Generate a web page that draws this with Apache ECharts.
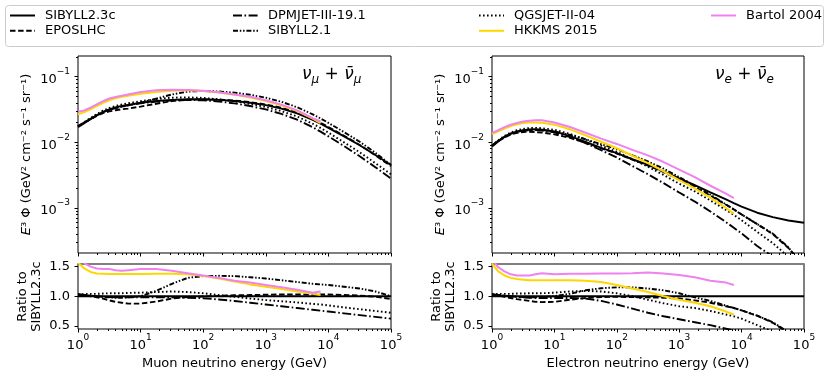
<!DOCTYPE html>
<html>
<head>
<meta charset="utf-8">
<title>Atmospheric neutrino flux</title>
<script src="https://cdn.jsdelivr.net/npm/echarts@6/dist/echarts.min.js"></script>
<style>
html, body { margin: 0; padding: 0; background: #fff; }
#chart { width: 830px; height: 388px; }
</style>
</head>
<body>
<div id="chart"></div>
<script>
// neutrino energy grid (GeV)
var energy = [1, 1.259, 1.585, 1.995, 2.512, 3.162, 3.981, 5.012, 6.310, 10, 17.78, 31.62, 56.23, 100, 177.8, 316.2, 562.3, 1000, 1778, 3162, 5623, 7499, 10000, 17783, 31623, 56234, 100000]

// SIBYLL2.3c flux, E^3 Phi
var muonBase = [0.0170, 0.0196, 0.0225, 0.0258, 0.0290, 0.0318, 0.0340, 0.0358, 0.0372, 0.0400, 0.0425, 0.0443, 0.0452, 0.0452, 0.0443, 0.0426, 0.0401, 0.0368, 0.0326, 0.0276, 0.0220, 0.0192, 0.0166, 0.0123, 0.0090, 0.0064, 0.0045]
var electronBase = [0.0086, 0.0103, 0.0120, 0.0135, 0.0146, 0.0153, 0.0157, 0.0158, 0.0156, 0.0146, 0.0124, 0.0101, 0.0082, 0.0068, 0.0055, 0.0045, 0.0036, 0.0028, 0.00222, 0.00172, 0.00134, 0.00118, 0.00104, 0.00084, 0.00072, 0.00064, 0.00059]

// ratio to SIBYLL2.3c, muon neutrinos
var muonSibyll23c = [1, 1, 1, 1, 1, 1, 1, 1, 1, 1, 1, 1, 1, 1, 1, 1, 1, 1, 1, 1, 1, 1, 1, 1, 1, 1, 1]
var muonEpos = [1.03, 1.02, 1.00, 0.98, 0.96, 0.93, 0.905, 0.89, 0.875, 0.875, 0.91, 0.96, 0.985, 0.995, 1.005, 1.015, 1.02, 1.025, 1.03, 1.03, 1.03, 1.03, 1.03, 1.02, 1.01, 0.99, 0.955]
var muonDpmjet = [1.03, 1.02, 1.01, 1.00, 0.99, 0.985, 0.98, 0.98, 0.98, 0.98, 0.98, 0.98, 0.975, 0.965, 0.945, 0.92, 0.89, 0.86, 0.83, 0.80, 0.77, 0.755, 0.74, 0.71, 0.68, 0.65, 0.62]
var muonSibyll21 = [1.03, 1.02, 1.01, 1.00, 0.99, 0.98, 0.975, 0.975, 0.98, 1.0, 1.09, 1.21, 1.31, 1.34, 1.345, 1.34, 1.32, 1.30, 1.27, 1.24, 1.21, 1.20, 1.19, 1.16, 1.13, 1.08, 1.0]
var muonQgsjet = [1.03, 1.035, 1.04, 1.04, 1.045, 1.05, 1.05, 1.05, 1.055, 1.06, 1.07, 1.08, 1.07, 1.05, 1.02, 0.99, 0.96, 0.935, 0.915, 0.895, 0.87, 0.86, 0.845, 0.81, 0.78, 0.75, 0.72]
var muonHkkms = [1.57, 1.47, 1.41, 1.385, 1.38, 1.375, 1.375, 1.375, 1.375, 1.375, 1.38, 1.38, 1.37, 1.34, 1.30, 1.25, 1.20, 1.16, 1.12, 1.08, 1.04, 1.02]
var muonBartol = [1.72, 1.56, 1.50, 1.47, 1.46, 1.46, 1.44, 1.43, 1.44, 1.46, 1.46, 1.43, 1.39, 1.35, 1.31, 1.26, 1.23, 1.19, 1.15, 1.11, 1.06, 1.08]

// ratio to SIBYLL2.3c, electron neutrinos
var elecSibyll23c = [1, 1, 1, 1, 1, 1, 1, 1, 1, 1, 1, 1, 1, 1, 1, 1, 1, 1, 1, 1, 1, 1, 1, 1, 1, 1, 1]
var elecEpos = [1.03, 1.01, 0.99, 0.97, 0.95, 0.935, 0.92, 0.905, 0.90, 0.905, 0.94, 0.97, 0.985, 0.99, 0.985, 0.98, 0.975, 0.96, 0.93, 0.89, 0.83, 0.80, 0.76, 0.67, 0.55, 0.38, 0.22]
var elecDpmjet = [1.03, 1.02, 1.01, 1.00, 0.99, 0.98, 0.975, 0.97, 0.97, 0.97, 0.97, 0.96, 0.92, 0.86, 0.79, 0.72, 0.66, 0.61, 0.56, 0.51, 0.45, 0.42, 0.39, 0.31, 0.25, 0.19, 0.14]
var elecSibyll21 = [1.03, 1.02, 1.01, 1.00, 0.99, 0.985, 0.98, 0.98, 0.985, 1.0, 1.04, 1.10, 1.135, 1.15, 1.15, 1.13, 1.10, 1.05, 0.98, 0.92, 0.84, 0.80, 0.76, 0.67, 0.56, 0.39, 0.20]
var elecQgsjet = [1.04, 1.04, 1.04, 1.04, 1.045, 1.045, 1.05, 1.05, 1.05, 1.06, 1.08, 1.09, 1.08, 1.05, 1.00, 0.94, 0.88, 0.83, 0.80, 0.75, 0.69, 0.66, 0.62, 0.51, 0.40, 0.28, 0.18]
var elecHkkms = [1.55, 1.42, 1.35, 1.31, 1.29, 1.28, 1.27, 1.27, 1.27, 1.27, 1.27, 1.26, 1.24, 1.19, 1.13, 1.07, 1.00, 0.94, 0.89, 0.83, 0.74, 0.69]
var elecBartol = [1.62, 1.49, 1.42, 1.37, 1.35, 1.35, 1.35, 1.37, 1.39, 1.37, 1.38, 1.38, 1.385, 1.385, 1.39, 1.40, 1.385, 1.36, 1.32, 1.26, 1.23, 1.19]

// tick labels (decade exponents) and ratio ticks
var xDecades = [0, 1, 2, 3, 4, 5]
var yDecades = [-3, -2, -1]
var ratioTicks = [0.5, 1.0, 1.5]

var FONT = 'DejaVu Sans'
var yMin = 2.04e-4, yMax = 0.207
var rMin = 0.445, rMax = 1.545

var models = [
    {name: 'SIBYLL2.3c', color: '#000', width: 1.9, dash: 'solid', mu: muonSibyll23c, e: elecSibyll23c},
    {name: 'EPOSLHC', color: '#000', width: 1.9, dash: [5.5, 2.6], mu: muonEpos, e: elecEpos},
    {name: 'DPMJET-III-19.1', color: '#000', width: 1.9, dash: [9, 2.5, 1.6, 2.5], mu: muonDpmjet, e: elecDpmjet},
    {name: 'SIBYLL2.1', color: '#000', width: 1.9, dash: [5, 1.8, 1.5, 1.8, 1.5, 1.8], mu: muonSibyll21, e: elecSibyll21},
    {name: 'QGSJET-II-04', color: '#000', width: 1.9, dash: [1.6, 2.4], mu: muonQgsjet, e: elecQgsjet},
    {name: 'HKKMS 2015', color: '#FFD700', width: 2, dash: 'solid', mu: muonHkkms, e: elecHkkms},
    {name: 'Bartol 2004', color: '#EE82EE', width: 2, dash: 'solid', mu: muonBartol, e: elecBartol}
]

var panels = [
    {left: 78, top: 56, width: 313, height: 197, kind: 'flux', key: 'mu', base: muonBase},
    {left: 78, top: 264, width: 313, height: 65, kind: 'ratio', key: 'mu', xname: 'Muon neutrino energy (GeV)'},
    {left: 492, top: 56, width: 312, height: 197, kind: 'flux', key: 'e', base: electronBase},
    {left: 492, top: 264, width: 312, height: 65, kind: 'ratio', key: 'e', xname: 'Electron neutrino energy (GeV)'}
]

var xMinor = []
for (var k = 0; k < 5; k++) {
    for (var m = 2; m <= 9; m++) xMinor.push(k + Math.log10(m))
}
var yMinor = []
for (var k2 = -4; k2 < 0; k2++) {
    for (var m2 = 2; m2 <= 9; m2++) {
        var v = k2 + Math.log10(m2)
        if (v > Math.log10(yMin) && v < Math.log10(yMax)) yMinor.push(v)
    }
}

function powLabel (v) {
    return '{b|10}{e|' + String(Math.round(v)).replace('-', '\u2212') + '}'
}
var powRich = {
    b: {fontSize: 13, fontFamily: FONT, color: '#000', lineHeight: 19, verticalAlign: 'bottom'},
    e: {fontSize: 9, fontFamily: FONT, color: '#000', lineHeight: 19, verticalAlign: 'top'}
}
var tickStyle = {color: '#000', width: 1}
var nameStyle = {fontSize: 13, fontFamily: FONT, color: '#000'}

var grids = [], xAxes = [], yAxes = [], series = []

panels.forEach(function (p, g) {
    grids.push({left: p.left, top: p.top, width: p.width, height: p.height, show: true, borderColor: '#000', borderWidth: 1})

    // data x axis (log)
    var xi = xAxes.length
    xAxes.push({type: 'log', logBase: 10, gridIndex: g, min: 1, max: 1e5,
        axisLine: {show: false}, axisTick: {show: false}, axisLabel: {show: false}, splitLine: {show: false}})
    // major ticks / labels in decades
    xAxes.push({type: 'value', gridIndex: g, min: 0, max: 5, position: 'bottom',
        axisLine: {show: false}, splitLine: {show: false},
        axisTick: {show: true, customValues: xDecades, length: 3.5, lineStyle: tickStyle},
        axisLabel: {show: p.kind === 'ratio', customValues: xDecades, formatter: powLabel, rich: powRich, margin: 4},
        name: p.xname || '', nameLocation: 'middle', nameGap: 28, nameTextStyle: nameStyle})
    // minor ticks
    xAxes.push({type: 'value', gridIndex: g, min: 0, max: 5, position: 'bottom',
        axisLine: {show: false}, splitLine: {show: false}, axisLabel: {show: false},
        axisTick: {show: true, customValues: xMinor, length: 2, lineStyle: tickStyle}})

    var yi = yAxes.length
    if (p.kind === 'flux') {
        yAxes.push({type: 'log', logBase: 10, gridIndex: g, min: yMin, max: yMax,
            axisLine: {show: false}, axisTick: {show: false}, axisLabel: {show: false}, splitLine: {show: false}})
        yAxes.push({type: 'value', gridIndex: g, min: Math.log10(yMin), max: Math.log10(yMax), position: 'left',
            axisLine: {show: false}, splitLine: {show: false},
            axisTick: {show: true, customValues: yDecades, length: 3.5, lineStyle: tickStyle},
            axisLabel: {show: true, customValues: yDecades, formatter: powLabel, rich: powRich, margin: 8},
            name: '{i|E}\u00b3 \u03a6 (GeV\u00b2 cm\u207b\u00b2 s\u207b\u00b9 sr\u207b\u00b9)', nameLocation: 'middle', nameGap: 45,
            nameTextStyle: {fontSize: 13, fontFamily: FONT, color: '#000',
                rich: {i: {fontSize: 13, fontFamily: FONT, fontStyle: 'italic', color: '#000'}}}})
        yAxes.push({type: 'value', gridIndex: g, min: Math.log10(yMin), max: Math.log10(yMax), position: 'left',
            axisLine: {show: false}, splitLine: {show: false}, axisLabel: {show: false},
            axisTick: {show: true, customValues: yMinor, length: 2, lineStyle: tickStyle}})
    } else {
        yAxes.push({type: 'value', gridIndex: g, min: rMin, max: rMax,
            axisLine: {show: false}, splitLine: {show: false},
            axisTick: {show: true, customValues: ratioTicks, length: 3.5, lineStyle: tickStyle},
            axisLabel: {show: true, customValues: ratioTicks, formatter: function (v) { return v.toFixed(1) },
                fontSize: 13, fontFamily: FONT, color: '#000', margin: 8},
            name: 'Ratio to\nSIBYLL2.3c', nameLocation: 'middle', nameGap: 34,
            nameTextStyle: {fontSize: 13, fontFamily: FONT, color: '#000', lineHeight: 14}})
        // grey line along the top of the ratio panel
        xAxes.push({type: 'value', gridIndex: g, min: 0, max: 5, position: 'top',
            axisLine: {show: true, lineStyle: {color: '#7f7f7f', width: 2}},
            axisTick: {show: false}, axisLabel: {show: false}, splitLine: {show: false}})
    }

    models.forEach(function (md, n) {
        var r = md[p.key]
        var data = r.map(function (val, i) {
            return p.kind === 'flux' ? [energy[i], p.base[i] * val] : [energy[i], val]
        })
        series.push({
            type: 'line', name: md.name, xAxisIndex: xi, yAxisIndex: yi,
            data: data, symbol: 'none', showSymbol: false, clip: true, z: 2 + n,
            lineStyle: {color: md.color, width: md.width, type: md.dash},
            itemStyle: {color: md.color},
            emphasis: {disabled: true}
        })
    })
})

var legendCols = [
    ['SIBYLL2.3c', 'EPOSLHC'],
    ['DPMJET-III-19.1', 'SIBYLL2.1'],
    ['QGSJET-II-04', 'HKKMS 2015'],
    ['Bartol 2004']
]
var legendLeft = [9, 232, 478, 710]

var chart = echarts.init(document.getElementById('chart'), null, {renderer: 'canvas'})
chart.setOption({
    animation: false,
    textStyle: {fontFamily: FONT},
    grid: grids,
    xAxis: xAxes,
    yAxis: yAxes,
    legend: legendCols.map(function (names, c) {
        return {
            left: legendLeft[c], top: 9, orient: 'vertical', data: names,
            itemWidth: 25, itemHeight: 16, itemGap: 2.3, padding: 0, selectedMode: false,
            itemStyle: {opacity: 0},
            textStyle: {fontSize: 13, fontFamily: FONT, color: '#000', padding: [0, 0, 0, 5]}
        }
    }),
    graphic: [
        {type: 'rect', left: 5, top: 5, z: -1,
            shape: {width: 818, height: 41, r: 3},
            style: {fill: '#fff', stroke: '#cccccc', lineWidth: 1}},
        {type: 'text', left: 302, top: 66,
            style: {text: '{v|\u03bd}{s|\u03bc}{p| + }{v|\u03bd\u0304}{s|\u03bc}',
                rich: {
                    v: {fontSize: 17, fontFamily: FONT, fontStyle: 'italic', fill: '#000', lineHeight: 22, verticalAlign: 'middle'},
                    s: {fontSize: 12, fontFamily: FONT, fontStyle: 'italic', fill: '#000', lineHeight: 22, verticalAlign: 'bottom'},
                    p: {fontSize: 17, fontFamily: FONT, fill: '#000', lineHeight: 22, verticalAlign: 'middle'}
                }}},
        {type: 'text', left: 715, top: 66,
            style: {text: '{v|\u03bd}{s|e}{p| + }{v|\u03bd\u0304}{s|e}',
                rich: {
                    v: {fontSize: 17, fontFamily: FONT, fontStyle: 'italic', fill: '#000', lineHeight: 22, verticalAlign: 'middle'},
                    s: {fontSize: 12, fontFamily: FONT, fontStyle: 'italic', fill: '#000', lineHeight: 22, verticalAlign: 'bottom'},
                    p: {fontSize: 17, fontFamily: FONT, fill: '#000', lineHeight: 22, verticalAlign: 'middle'}
                }}}
    ],
    series: series
})
</script>
</body>
</html>
